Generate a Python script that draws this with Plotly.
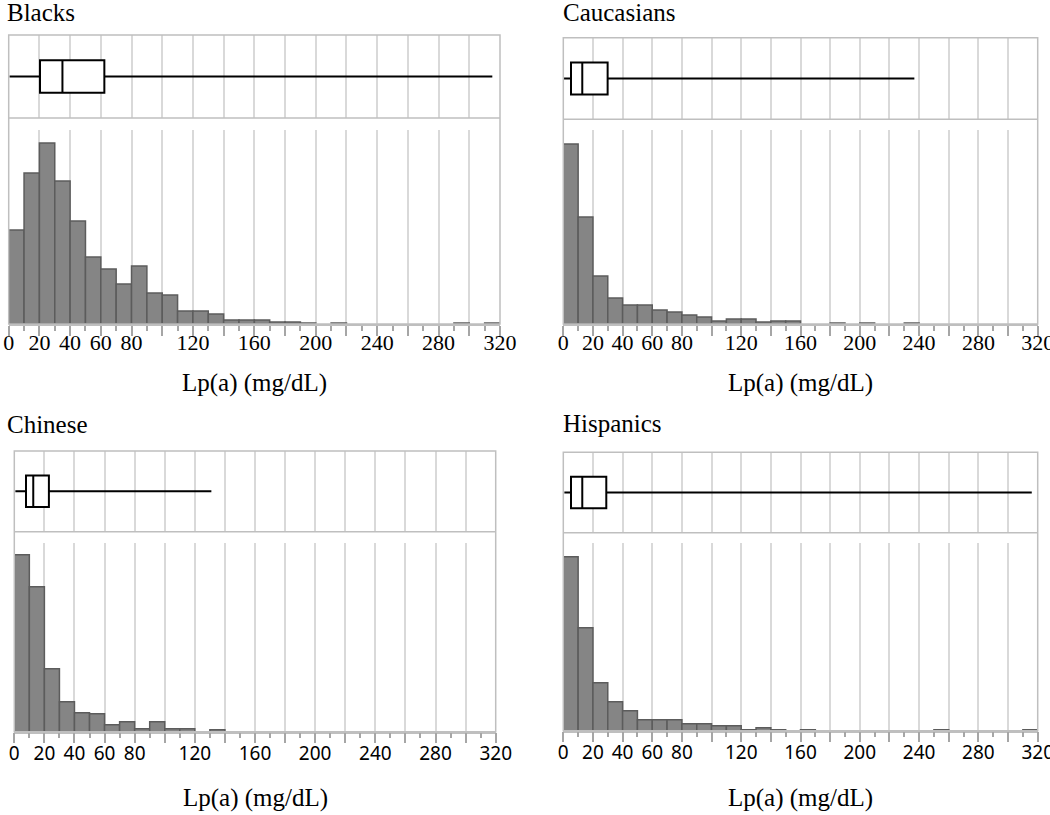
import plotly.graph_objects as go

# ---------------- data ----------------
GROUPS = ["Blacks", "Caucasians", "Chinese", "Hispanics"]
BIN_WIDTH = 10
BIN_STARTS = list(range(0, 320, 10))  # Lp(a) bins 0-10, 10-20, ... 310-320 mg/dL

blacks_counts = [94, 151, 181, 143, 103, 67, 55, 40, 58, 31, 29, 13, 13, 10, 4, 4,
                 4, 2, 2, 1, 0, 1, 0, 0, 0, 0, 0, 0, 0, 1, 0, 1]
caucasians_counts = [180, 107, 48, 26, 19, 19, 14, 12, 9, 7, 3, 5, 5, 2, 3, 3,
                     0, 0, 1, 0, 1, 0, 0, 1, 0, 0, 0, 0, 0, 0, 0, 0]
chinese_counts = [177, 145, 63, 30, 19, 18, 7, 10, 3, 10, 3, 3, 0, 2, 0, 0,
                  0, 0, 0, 0, 0, 0, 0, 0, 0, 0, 0, 0, 0, 0, 0, 0]
hispanics_counts = [174, 103, 48, 29, 20, 11, 11, 11, 7, 7, 5, 5, 1, 3, 1, 0,
                    1, 0, 0, 0, 0, 0, 0, 0, 0, 1, 0, 0, 0, 0, 0, 1]

# box-plot summaries (mg/dL): min, Q1, median, Q3, max
box_min = [0.5, 0.5, 0.7, 0.7]
box_q1 = [20.4, 5.2, 7.8, 5.2]
box_median = [35.0, 12.8, 12.6, 12.8]
box_q3 = [62.3, 29.9, 23.0, 29.0]
box_max = [315.0, 236.8, 131.0, 316.0]

TICK_VALS = [0, 20, 40, 60, 80, 100, 120, 140, 160, 180, 200, 220, 240, 260, 280, 300, 320]
TICK_TEXT = ["0", "20", "40", "60", "80", "", "120", "", "160", "", "200", "", "240", "", "280", "", "320"]
AXIS_TITLE = "Lp(a) (mg/dL)"

ALL_COUNTS = [blacks_counts, caucasians_counts, chinese_counts, hispanics_counts]

# ---------------- layout geometry (page pixels) ----------------
W, H = 1050, 815

PANELS = [
    dict(x0=8.7, x1=500.0, top=35.0, div=118.0, gtop=130.0, base=324.0, tx=5, ty=12, aty=383,
         tfont=dict(family="Liberation Serif", size=22, color="black"), lblshift=-12),
    dict(x0=563.3, x1=1037.7, top=37.7, div=119.3, gtop=130.0, base=324.0, tx=560.5, ty=12, aty=383,
         tfont=dict(family="Liberation Serif", size=22, color="black"), lblshift=-12),
    dict(x0=14.3, x1=495.7, top=451.0, div=531.7, gtop=542.7, base=731.7, tx=5, ty=424, aty=798,
         tfont=dict(family="Noto Sans", size=19, color="black"), lblshift=-6),
    dict(x0=563.3, x1=1037.7, top=452.3, div=532.7, gtop=543.3, base=730.7, tx=560.5, ty=423, aty=798,
         tfont=dict(family="Noto Sans", size=19, color="black"), lblshift=-6),
]

def px(x):
    return x / W

def py(y):
    return 1 - y / H

FRAME = "#bfbfbf"
GRID = "#d9d9d9"
TICKC = "#a6a6a6"

fig = go.Figure()
layout = dict(
    width=W, height=H,
    margin=dict(l=0, r=0, t=0, b=0, pad=0),
    paper_bgcolor="white", plot_bgcolor="white",
    showlegend=False,
    font=dict(family="Liberation Serif", color="black"),
    shapes=[], annotations=[],
)

bin_centers = [s + BIN_WIDTH / 2 for s in BIN_STARTS]

for i, (name, counts, p) in enumerate(zip(GROUPS, ALL_COUNTS, PANELS)):
    nb = 2 * i + 1  # box axis index
    nh = 2 * i + 2  # histogram axis index
    xb, yb = f"x{nb}", f"y{nb}"
    xh, yh = f"x{nh}", f"y{nh}"

    # histogram bars
    fig.add_trace(go.Bar(
        x=bin_centers, y=[c if c > 0 else None for c in counts], width=BIN_WIDTH,
        marker=dict(color="#858585", line=dict(color="#5c5c5c", width=1.5)),
        xaxis=xh, yaxis=yh, hoverinfo="x+y",
    ))
    # box plot
    fig.add_trace(go.Box(
        y=[0], orientation="h",
        q1=[box_q1[i]], median=[box_median[i]], q3=[box_q3[i]],
        lowerfence=[box_min[i]], upperfence=[box_max[i]],
        width=0.39, whiskerwidth=0, boxpoints=False,
        fillcolor="white", line=dict(color="black", width=2),
        xaxis=xb, yaxis=yb, hoverinfo="skip",
    ))

    xdom = [px(p["x0"]), px(p["x1"])]
    # box axes
    layout[f"xaxis{nb}"] = dict(
        domain=xdom, anchor=yb, range=[0, 320], automargin=False,
        tickmode="array", tickvals=TICK_VALS, showticklabels=False, ticks="",
        showgrid=True, gridcolor=GRID, gridwidth=1.5, zeroline=False, showline=False,
    )
    layout[f"yaxis{nb}"] = dict(
        domain=[py(p["div"]), py(p["top"])], anchor=xb, range=[-0.5, 0.5], automargin=False,
        showticklabels=False, showgrid=False, zeroline=False, ticks="", showline=False,
    )
    # histogram axes
    layout[f"xaxis{nh}"] = dict(
        domain=xdom, anchor=yh, range=[0, 320], automargin=False,
        tickmode="array", tickvals=TICK_VALS, ticktext=TICK_TEXT,
        ticks="outside", ticklen=10, tickwidth=1.5, tickcolor=TICKC,
        ticklabelstandoff=p["lblshift"], ticklabeloverflow="allow",
        tickfont=p["tfont"],
        minor=dict(tickmode="linear", tick0=0, dtick=10, ticks="outside", ticklen=5,
                   tickwidth=1.5, tickcolor=TICKC, showgrid=False),
        showgrid=True, gridcolor=GRID, gridwidth=1.5, zeroline=False,
        showline=True, linecolor=FRAME, linewidth=1.5,
    )
    layout[f"yaxis{nh}"] = dict(
        domain=[py(p["base"]), py(p["gtop"])], anchor=xh, automargin=False,
        range=[0, p["base"] - p["gtop"]],
        showticklabels=False, showgrid=False, zeroline=False, ticks="", showline=False,
    )

    # frame and divider
    layout["shapes"].append(dict(
        type="rect", xref="paper", yref="paper",
        x0=px(p["x0"]), x1=px(p["x1"]), y0=py(p["base"]), y1=py(p["top"]),
        line=dict(color=FRAME, width=1.5), fillcolor="rgba(0,0,0,0)", layer="above",
    ))
    layout["shapes"].append(dict(
        type="line", xref="paper", yref="paper",
        x0=px(p["x0"]), x1=px(p["x1"]), y0=py(p["div"]), y1=py(p["div"]),
        line=dict(color=FRAME, width=1.5), layer="above",
    ))

    # panel title
    layout["annotations"].append(dict(
        text=name, xref="paper", yref="paper", x=px(p["tx"]), y=py(p["ty"]),
        xanchor="left", yanchor="middle", showarrow=False,
        font=dict(family="Liberation Serif", size=25, color="black"),
    ))
    # axis title
    layout["annotations"].append(dict(
        text=AXIS_TITLE, xref="paper", yref="paper",
        x=(xdom[0] + xdom[1]) / 2, y=py(p["aty"]),
        xanchor="center", yanchor="middle", showarrow=False,
        font=dict(family="Liberation Serif", size=25, color="black"),
    ))

fig.update_layout(**layout)
fig.write_html(
    "out.html",
    config={"displayModeBar": False},
    post_script="document.body.style.margin='0px';document.body.style.overflow='hidden';",
)
